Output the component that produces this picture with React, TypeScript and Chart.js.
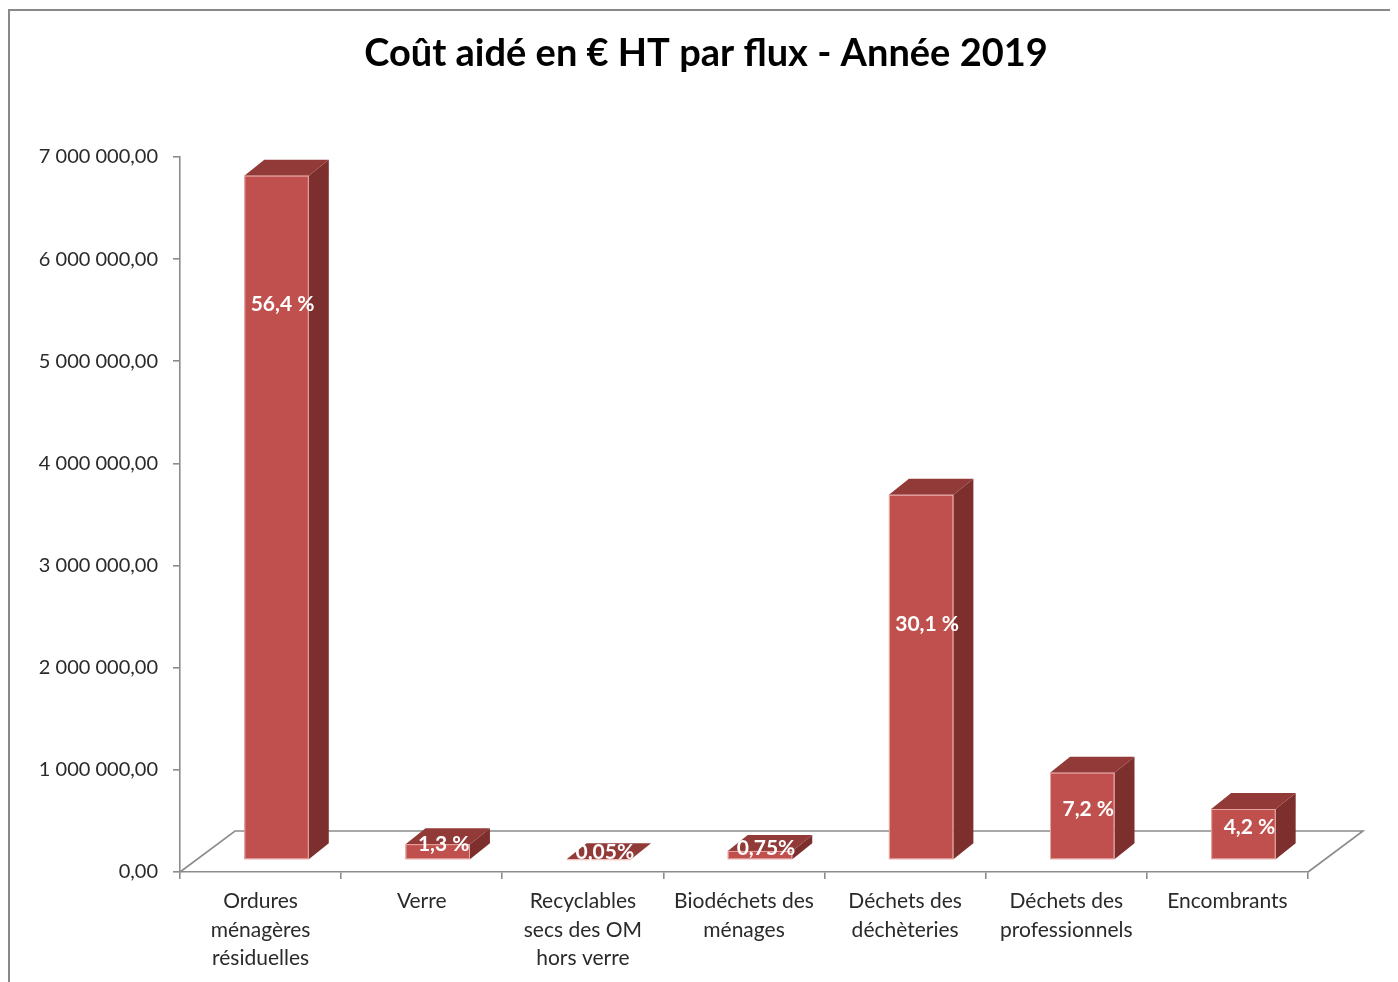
import React, { useEffect, useRef } from "react";
import { Chart, registerables } from "chart.js";

Chart.register(...registerables);

// ---- Data ----
const categories: string[][] = [
  ["Ordures", "ménagères", "résiduelles"],
  ["Verre"],
  ["Recyclables", "secs des OM", "hors verre"],
  ["Biodéchets des", "ménages"],
  ["Déchets des", "déchèteries"],
  ["Déchets des", "professionnels"],
  ["Encombrants"],
];
const costValues: number[] = [6700000, 155000, 6000, 89000, 3575000, 855000, 499000];
const shareLabels: string[] = ["56,4 %", "1,3 %", "0,05%", "0,75%", "30,1 %", "7,2 %", "4,2 %"];
const yTickValues: number[] = [0, 1000000, 2000000, 3000000, 4000000, 5000000, 6000000, 7000000];

const TITLE = "Coût aidé en € HT par flux - Année 2019";
const FONT = "Lato, 'Noto Sans', sans-serif";

const FRONT = "#C0504D";
const SIDE = "#7D2F2D";
const TOP = "#923A38";
const AXIS = "#8C8C8C";
const TEXT = "#2A2A2A";

function fmt(v: number): string {
  const s = Math.round(v).toString().replace(/\B(?=(\d{3})+(?!\d))/g, " ");
  return s + ",00";
}

const frame3D = {
  id: "frame3D",
  beforeDraw(chart: any) {
    const ctx = chart.ctx;
    ctx.save();
    ctx.strokeStyle = "#888888";
    ctx.lineWidth = 2;
    ctx.beginPath();
    ctx.moveTo(1, chart.height);
    ctx.lineTo(1, 2);
    ctx.lineTo(chart.width, 2);
    ctx.stroke();
    // title
    ctx.fillStyle = "#000000";
    ctx.font = "bold 38px " + FONT;
    ctx.textAlign = "center";
    ctx.textBaseline = "middle";
    ctx.fillText(TITLE, 698, 46);
    ctx.restore();
  },
  beforeDatasetsDraw(chart: any) {
    const ctx = chart.ctx;
    const xs = chart.scales.x;
    const ys = chart.scales.y;
    const b = ys.getPixelForValue(0);
    const l = xs.left;
    const r = xs.right;
    const ddx = 55;
    const ddy = -41;
    ctx.save();
    ctx.strokeStyle = AXIS;
    ctx.lineWidth = 1.6;
    ctx.beginPath();
    ctx.moveTo(l, b);
    ctx.lineTo(l + ddx, b + ddy);
    ctx.lineTo(r + ddx, b + ddy);
    ctx.lineTo(r, b);
    ctx.stroke();
    ctx.restore();
  },
  afterDatasetsDraw(chart: any) {
    const ctx = chart.ctx;
    const meta = chart.getDatasetMeta(0);
    const fx = 16;
    const fy = -12;
    const dx = 20;
    const dy = -16;
    ctx.save();
    meta.data.forEach((el: any) => {
      const p = el.getProps(["x", "y", "base", "width"], true);
      const left = p.x - p.width / 2 + fx;
      const right = p.x + p.width / 2 + fx;
      const top = Math.min(p.y, p.base) + fy;
      const bottom = p.base + fy;
      ctx.fillStyle = SIDE;
      ctx.beginPath();
      ctx.moveTo(right, bottom);
      ctx.lineTo(right, top);
      ctx.lineTo(right + dx, top + dy);
      ctx.lineTo(right + dx, bottom + dy);
      ctx.closePath();
      ctx.fill();
      ctx.fillStyle = TOP;
      ctx.beginPath();
      ctx.moveTo(left, top);
      ctx.lineTo(right, top);
      ctx.lineTo(right + dx, top + dy);
      ctx.lineTo(left + dx, top + dy);
      ctx.closePath();
      ctx.fill();
      ctx.fillStyle = FRONT;
      ctx.fillRect(left, top, right - left, bottom - top);
      ctx.strokeStyle = "rgba(240,190,188,0.8)";
      ctx.lineWidth = 1;
      ctx.strokeRect(left + 0.5, top + 0.5, right - left - 1, Math.max(0, bottom - top - 1));
    });
    ctx.fillStyle = "#FFFFFF";
    ctx.font = "bold 21px " + FONT;
    ctx.textAlign = "center";
    ctx.textBaseline = "middle";
    meta.data.forEach((el: any, i: number) => {
      const p = el.getProps(["x", "y", "base", "width"], true);
      const top = Math.min(p.y, p.base) + fy;
      const bottom = p.base + fy;
      const ly = Math.min(top + 129, (top + bottom) / 2 - 7);
      const lx = p.x + fx + 6;
      ctx.fillText(shareLabels[i], lx, ly);
    });
    ctx.restore();
  },
};

export default function App() {
  const ref = useRef<HTMLCanvasElement | null>(null);

  useEffect(() => {
    if (!ref.current) return;
    const chart = new Chart(ref.current, {
      type: "bar",
      data: {
        labels: categories,
        datasets: [
          {
            data: costValues,
            backgroundColor: "rgba(0,0,0,0)",
            borderWidth: 0,
            barPercentage: 0.4,
            categoryPercentage: 1,
          },
        ],
      },
      options: {
        responsive: false,
        animation: false,
        events: [],
        layout: { padding: { left: 0, right: 90, top: 149, bottom: 0 } },
        plugins: {
          legend: { display: false },
          tooltip: { enabled: false },
          title: { display: false },
        },
        scales: {
          x: {
            afterFit: (s: any) => {
              s.height = 110;
            },
            grid: {
              display: true,
              drawOnChartArea: false,
              drawTicks: true,
              tickLength: 7,
              color: AXIS,
              lineWidth: 1.6,
              offset: true,
            },
            border: { display: true, color: AXIS, width: 1.6 },
            ticks: {
              color: TEXT,
              font: { family: FONT, size: 21, lineHeight: 1.36 },
              padding: 8,
              maxRotation: 0,
              autoSkip: false,
            },
          },
          y: {
            min: 0,
            max: 7000000,
            afterFit: (s: any) => {
              s.width = 172;
            },
            afterBuildTicks: (s: any) => {
              s.ticks = yTickValues.map((v) => ({ value: v }));
            },
            grid: {
              display: true,
              drawOnChartArea: false,
              drawTicks: true,
              tickLength: 7,
              color: AXIS,
              lineWidth: 1.6,
            },
            border: { display: true, color: AXIS, width: 1.6 },
            ticks: {
              color: TEXT,
              font: { family: FONT, size: 20 },
              padding: 15,
              callback: (v: any) => fmt(Number(v)),
            },
          },
        },
      },
      plugins: [frame3D],
    } as any);
    return () => chart.destroy();
  }, []);

  return (
    <canvas
      ref={ref}
      width={1390}
      height={974}
      style={{ display: "block", width: 1390, height: 974 }}
    />
  );
}
